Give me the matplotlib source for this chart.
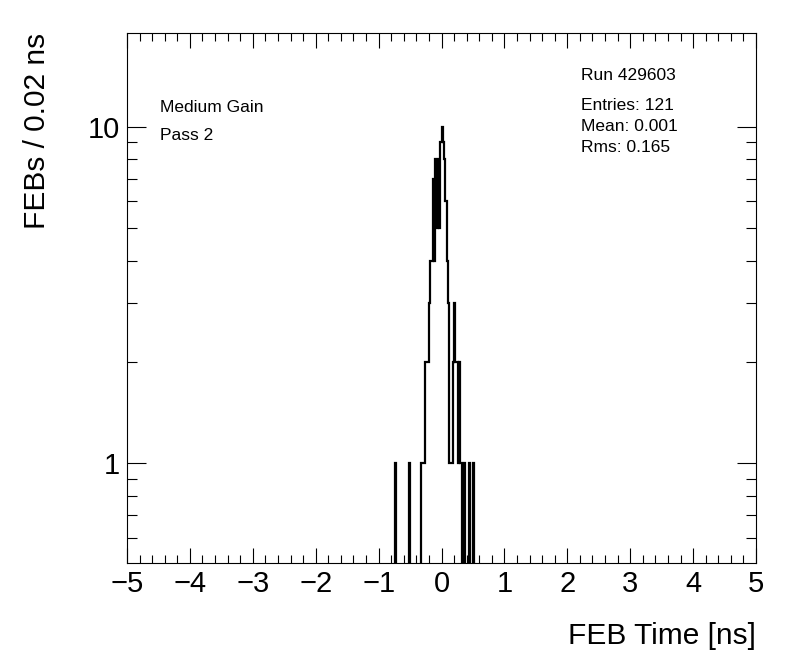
import numpy as np
import matplotlib
matplotlib.use("Agg")
import matplotlib.pyplot as plt
from matplotlib.ticker import FixedLocator, MultipleLocator, LogLocator, NullFormatter, FuncFormatter

plt.rcParams['font.family'] = ['Liberation Sans', 'DejaVu Sans']

# histogram: 500 bins of 0.02 ns between -5 and 5, only filled bins listed
bin_width = 0.02
filled_left_edges = [-0.74, -0.52,
                     -0.32, -0.30, -0.28, -0.26, -0.24, -0.22,
                     -0.20, -0.18, -0.16, -0.14, -0.12, -0.10, -0.08, -0.06, -0.04,
                     -0.02, 0.00, 0.02, 0.04, 0.06, 0.08, 0.10, 0.12, 0.14, 0.16, 0.18,
                     0.20, 0.22, 0.24, 0.26, 0.28, 0.30,
                     0.36, 0.44, 0.50]
filled_counts = [1, 1,
                 1, 1, 1, 2, 2, 2,
                 3, 4, 4, 7, 4, 8, 5, 8, 5,
                 9, 10, 9, 8, 6, 4, 3, 1, 1, 1, 2,
                 3, 2, 2, 1, 2, 1,
                 1, 1, 1]

run_text = "Run 429603"
stats_text = ["Entries: 121", "Mean: 0.001", "Rms: 0.165"]
info_text = ["Medium Gain", "Pass 2"]

edges = np.linspace(-5, 5, 501)
counts = np.zeros(500)
for e, c in zip(filled_left_edges, filled_counts):
    counts[int(round((e + 5) / bin_width))] = c

W, H = 796, 672
fig = plt.figure(figsize=(W / 100, H / 100), dpi=100)
ax = fig.add_axes([127 / W, 1 - 563 / H, (756 - 127) / W, (563 - 33) / H])

# empty bins pushed below the frame so the outline drops to the axis
vals = np.where(counts > 0, counts, 1e-3)
ax.stairs(vals, edges, baseline=None, color='black', lw=1.6)

ax.set_yscale('log')
ax.set_xlim(-5, 5)
ax.set_ylim(0.505, 19)

ax.xaxis.set_major_locator(MultipleLocator(1))
ax.xaxis.set_minor_locator(MultipleLocator(0.2))
ax.yaxis.set_major_locator(FixedLocator([1, 10]))
ax.yaxis.set_major_formatter(FuncFormatter(lambda v, p: "%g" % v))
ax.yaxis.set_minor_locator(LogLocator(subs=np.arange(2, 10)))
ax.yaxis.set_minor_formatter(NullFormatter())

ax.tick_params(axis='both', which='both', direction='in', top=True, right=True,
               width=0.8, labelsize=21)
ax.tick_params(axis='x', which='major', length=11, pad=5)
ax.tick_params(axis='x', which='minor', length=5.5)
ax.tick_params(axis='y', which='major', length=14, pad=5)
ax.tick_params(axis='y', which='minor', length=7)
for s in ax.spines.values():
    s.set_linewidth(0.8)

fig.text(756 / W, 1 - 636 / H, "FEB Time [ns]", ha='right', va='center', fontsize=21.5)
fig.text(37 / W, 1 - 33 / H, "FEBs / 0.02 ns", ha='center', va='top',
         rotation=90, fontsize=21.5)

fs = 12.5
fig.text(160 / W, 1 - 107 / H, info_text[0], ha='left', va='center', fontsize=fs)
fig.text(160 / W, 1 - 135 / H, info_text[1], ha='left', va='center', fontsize=fs)
fig.text(581 / W, 1 - 75 / H, run_text, ha='left', va='center', fontsize=fs)
for i, t in enumerate(stats_text):
    fig.text(581 / W, 1 - (105 + 21.5 * i) / H, t, ha='left', va='center', fontsize=fs)

fig.savefig("out.png", dpi=100)
